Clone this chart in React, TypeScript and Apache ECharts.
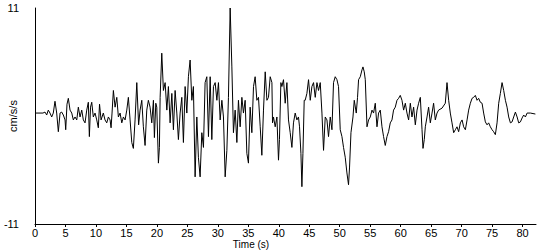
import React, { useEffect, useRef } from "react";
import * as echarts from "echarts";

// Time (s) of each sample
const timeS: number[] = [
  0.0, 1.31, 1.64, 1.92, 2.18, 2.46, 2.74, 3.0, 3.28, 3.56, 3.83, 4.11, 4.38, 4.65, 4.93, 5.04, 5.25, 5.47, 5.75, 6.03,
  6.29, 6.57, 6.85, 7.11, 7.39, 7.67, 7.93, 8.21, 8.49, 8.75, 8.92, 9.11, 9.31, 9.57, 9.85, 10.13, 10.39, 10.59, 10.84, 11.21,
  11.49, 11.77, 12.04, 12.32, 12.48, 12.64, 12.86, 13.14, 13.42, 13.68, 13.96, 14.24, 14.5, 14.78, 15.06, 15.32, 15.6, 15.88, 16.14, 16.42,
  16.7, 17.0, 17.24, 17.52, 17.78, 18.06, 18.34, 18.6, 18.88, 19.16, 19.43, 19.59, 19.82, 19.98, 20.25, 20.41, 20.53, 20.8, 21.07, 21.35,
  21.63, 21.89, 22.17, 22.45, 22.71, 22.99, 23.27, 23.53, 23.81, 24.09, 24.35, 24.63, 24.91, 25.17, 25.45, 25.73, 25.99, 26.27, 26.55, 26.81,
  27.09, 27.37, 27.64, 27.91, 28.19, 28.46, 28.74, 29.01, 29.28, 29.56, 29.84, 30.1, 30.38, 30.66, 30.92, 31.2, 31.48, 31.74, 32.02, 32.3,
  32.56, 32.84, 33.12, 33.38, 33.66, 33.94, 34.2, 34.48, 34.76, 35.02, 35.3, 35.58, 35.85, 36.12, 36.4, 36.67, 36.95, 37.22, 37.49, 37.77,
  38.05, 38.31, 38.59, 38.87, 38.97, 39.13, 39.41, 39.69, 39.95, 40.11, 40.34, 40.51, 40.77, 41.05, 41.33, 41.59, 41.87, 42.15, 42.41, 42.69,
  42.97, 43.23, 43.4, 43.63, 43.79, 43.96, 44.17, 44.33, 44.61, 44.88, 45.16, 45.43, 45.7, 45.98, 46.26, 46.52, 46.8, 47.08, 47.34, 47.62,
  47.9, 48.16, 48.44, 48.72, 48.98, 49.26, 49.54, 49.8, 50.08, 50.36, 50.62, 50.9, 51.18, 51.44, 51.61, 51.84, 52.17, 52.38, 52.71, 52.92,
  53.09, 53.37, 53.65, 53.81, 54.02, 54.19, 54.47, 54.73, 55.01, 55.29, 55.55, 55.83, 56.11, 56.37, 56.65, 56.93, 57.19, 57.47, 57.75, 58.01,
  58.29, 58.57, 58.83, 59.11, 59.39, 59.66, 59.93, 60.21, 60.48, 60.76, 61.03, 61.3, 61.58, 61.85, 62.12, 62.4, 62.68, 62.94, 63.22, 63.5,
  63.66, 63.87, 64.04, 64.32, 64.58, 64.86, 65.14, 65.4, 65.68, 65.96, 66.22, 66.78, 67.32, 67.6, 67.87, 68.14, 68.42, 68.69, 68.97, 69.24,
  69.51, 69.79, 70.07, 70.33, 70.61, 70.89, 71.15, 71.43, 71.71, 71.97, 72.25, 72.53, 72.79, 73.07, 73.35, 73.61, 73.89, 74.17, 74.43, 74.71,
  74.99, 75.25, 75.53, 75.81, 76.08, 76.35, 76.63, 76.9, 77.18, 77.45, 77.72, 78.0, 78.27, 78.54, 78.82, 79.1, 79.36, 79.64, 79.92, 80.18,
  80.46, 80.74, 81.28, 82.1,
];

// Acceleration (cm/s/s) at each of those times
const accel: number[] = [
  0.3, 0.3, 0.4, 0.1, 0.6, 0.3, -0.1, 0.3, 1.5, 0.3, -1.6, 0.3, 0.4, 0.1, -0.4, -1.4, 1.2, 1.8, 0.6, 0.3,
  -0.4, -0.1, -0.4, 0.9, -0.1, 0.6, -0.4, -0.7, 0.6, 1.4, -2.1, 0.9, 1.4, -0.1, 0.3, -0.4, -1.2, 1.2, -0.4, 0.3,
  -0.4, -0.7, -0.1, -0.4, -1.2, 0.3, 2.6, 0.9, 1.9, -0.1, 0.3, -0.7, -0.1, -0.4, 0.6, 1.9, -0.4, -2.7, -3.3, -0.4,
  3.4, -0.9, 0.6, 1.6, -1.1, -3.0, 0.6, 1.6, 0.9, -0.7, 1.6, -2.2, 1.3, 0.9, -4.8, -3.2, 1.9, 6.4, 2.6, 3.4,
  0.6, 3.0, -0.7, 2.3, -1.4, 2.6, 0.3, -2.4, 0.3, 1.9, -2.7, 3.0, 0.3, 4.0, 5.7, 1.6, 3.0, -6.2, -0.1, -4.2,
  -6.2, -1.7, -3.2, 3.4, 4.0, -2.1, 4.0, -2.4, 3.0, 3.4, 1.6, 3.4, -0.4, 1.6, -0.1, -6.2, -3.5, 1.9, 11.0, 5.0,
  -1.7, 0.6, -2.7, 1.6, -1.1, 1.9, 0.3, 1.6, -3.8, -4.8, 0.9, -1.7, 3.0, 4.0, 1.6, 1.9, -1.1, -4.0, 0.6, 4.5,
  1.6, 1.9, 4.0, 3.4, -0.7, -0.1, -1.1, -0.1, -4.5, -2.4, 3.4, 3.0, 3.7, 1.3, 3.4, -0.4, -1.7, -3.2, -0.7, 0.3,
  -0.4, -0.1, -1.1, -3.8, -7.2, -3.8, 1.6, 1.6, 2.3, 3.7, 1.6, 3.0, 3.4, 1.9, 3.4, 2.6, 3.4, 0.3, -3.5, -0.1,
  -0.4, -2.1, -0.1, -1.4, 3.4, 4.0, 3.7, 3.0, -1.4, -2.1, -3.2, -4.2, -5.8, -7.0, -5.2, -1.7, -0.1, 1.6, 0.3, 1.9,
  3.7, 4.0, 4.7, 5.0, 4.5, 3.7, -1.1, -0.4, -0.1, 0.6, 0.3, 1.3, -1.1, 0.3, 0.6, -1.1, -2.1, -3.0, -2.1, -1.6,
  -0.7, -0.4, 0.6, 0.9, 1.6, 1.8, 2.1, 1.6, 0.6, 1.3, 0.3, -0.4, 1.3, -0.1, 0.9, -0.9, 0.6, 1.3, 1.9, -1.4,
  -3.3, -2.4, -1.1, -0.1, 0.9, -0.7, 0.3, 1.3, -0.4, 0.3, 0.6, 0.8, 1.3, 3.4, 1.6, 0.3, -0.7, -1.7, -1.4, -1.1,
  -1.6, -0.7, -0.4, -1.1, -1.4, -0.4, 0.6, 1.3, 1.8, 1.9, 2.1, 1.6, 1.8, 1.4, 1.3, 0.3, -0.6, -0.9, -0.7, -1.1,
  -1.4, -1.6, -1.9, -0.7, 1.3, 2.3, 3.4, 2.6, 1.6, 0.9, -0.1, -0.7, -0.6, -0.1, 0.4, -0.1, -0.7, -0.6, -0.2, 0.1,
  -0.1, 0.3, 0.3, 0.2,
];

const xTickLabels: number[] = [0, 5, 10, 15, 20, 25, 30, 35, 40, 45, 50, 55, 60, 65, 70, 75, 80];
const yTickLabels: number[] = [-11, 11];

const FONT = "Liberation Sans";

export default function App() {
  const ref = useRef<HTMLDivElement>(null);

  useEffect(() => {
    if (!ref.current) return;
    const chart = echarts.init(ref.current, undefined, { renderer: "svg" });
    const data = timeS.map((t, i) => [t, accel[i]]);
    chart.setOption({
      animation: false,
      backgroundColor: "#fff",
      grid: { left: 35, right: 14, top: 8, bottom: 26, containLabel: false, outerBoundsMode: "none" },
      xAxis: {
        type: "value",
        min: 0,
        max: 82.2,
        interval: 5,
        name: "Time (s)",
        nameLocation: "middle",
        nameGap: 15,
        nameMoveOverlap: false,
        nameTextStyle: { color: "#000", fontFamily: FONT, fontSize: 10, padding: [0, 69, 0, 0] },
        axisLine: { show: true, onZero: false, lineStyle: { color: "#000", width: 1 } },
        axisTick: { show: true, length: 3, lineStyle: { color: "#000" }, customValues: xTickLabels },
        axisLabel: {
          color: "#000",
          fontFamily: FONT,
          fontSize: 11,
          margin: 3,
          customValues: xTickLabels,
        },
        splitLine: { show: false },
      },
      yAxis: {
        type: "value",
        min: -11,
        max: 11,
        interval: 22,
        name: "cm/s/s",
        nameLocation: "middle",
        nameGap: 17,
        nameMoveOverlap: false,
        nameTextStyle: { color: "#000", fontFamily: FONT, fontSize: 11 },
        axisLine: { show: true, lineStyle: { color: "#000", width: 1 } },
        axisTick: { show: false },
        axisLabel: {
          color: "#000",
          fontFamily: FONT,
          fontSize: 11,
          margin: 16,
          customValues: yTickLabels,
        },
        splitLine: { show: false },
      },
      series: [
        {
          type: "line",
          data,
          showSymbol: false,
          symbol: "none",
          lineStyle: { color: "#000", width: 1 },
          silent: true,
        },
      ],
    });
    return () => chart.dispose();
  }, []);

  return (
    <div
      ref={ref}
      style={{ position: "fixed", left: 0, top: 0, width: 550, height: 250, background: "#fff" }}
    />
  );
}
